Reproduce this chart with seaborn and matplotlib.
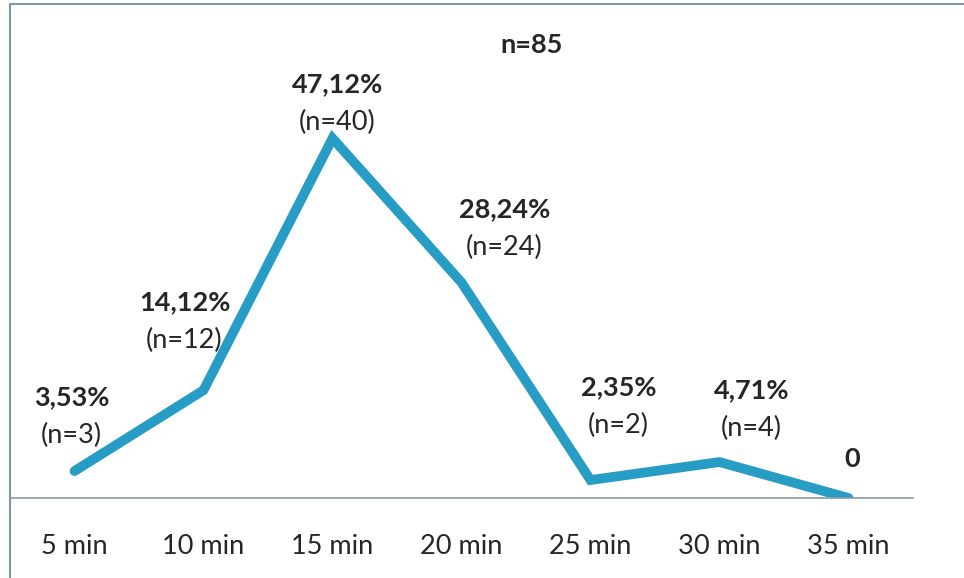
import matplotlib
matplotlib.use("Agg")
import matplotlib.pyplot as plt
import seaborn as sns
import pandas as pd
from matplotlib.lines import Line2D

# data
times = ["5 min", "10 min", "15 min", "20 min", "25 min", "30 min", "35 min"]
percent = [3.53, 14.12, 47.12, 28.24, 2.35, 4.71, 0.0]
counts = [3, 12, 40, 24, 2, 4, 0]
pct_labels = ["3,53%", "14,12%", "47,12%", "28,24%", "2,35%", "4,71%", "0"]
total_n = 85

# label offsets (pixels) from each point
offsets = [(-3, 55), (-19, 69), (5, 35), (43, 54), (28, 74), (32, 53), (4, 39)]

df = pd.DataFrame({"time": times, "percent": percent})

sns.set_style("white")
plt.rcParams["font.family"] = ["Lato", "DejaVu Sans"]
text_color = "#262626"
fsize = 19.5

fig = plt.figure(figsize=(9.64, 5.78), dpi=100)
ax = fig.add_axes([10 / 964, 80 / 578, 903 / 964, 458 / 578])

sns.lineplot(data=df, x="time", y="percent", ax=ax, color="#279dc5",
             linewidth=7, solid_capstyle="round", solid_joinstyle="miter",
             sort=False)

ax.set_xlim(-0.5, len(times) - 0.5)
ax.set_ylim(0, 60)
ax.set_yticks([])
ax.set_xlabel("")
ax.set_ylabel("")
ax.tick_params(axis="x", length=0, pad=26, labelsize=fsize, labelcolor=text_color)
for side in ["top", "right", "left"]:
    ax.spines[side].set_visible(False)
ax.spines["bottom"].set_color("#8c9ba5")
ax.spines["bottom"].set_linewidth(1.2)

# point labels
for i, (lab, n) in enumerate(zip(pct_labels, counts)):
    dx, dy = offsets[i]
    if lab == "0":
        ax.annotate(lab, (i, percent[i]), xytext=(dx, dy), textcoords="offset pixels",
                    ha="center", va="center", fontsize=fsize, fontweight="bold",
                    color=text_color)
        continue
    ax.annotate(lab, (i, percent[i]), xytext=(dx, dy + 19), textcoords="offset pixels",
                ha="center", va="center", fontsize=fsize, fontweight="bold",
                color=text_color)
    ax.annotate(f"(n={n})", (i, percent[i]), xytext=(dx, dy - 19),
                textcoords="offset pixels", ha="center", va="center",
                fontsize=fsize, color=text_color)

fig.text(532 / 964, 1 - 45 / 578, f"n={total_n}", ha="center", va="center",
         fontsize=fsize, fontweight="bold", color=text_color)

# chart frame (top and left edges)
fig.add_artist(Line2D([10 / 964, 1], [1 - 4 / 578, 1 - 4 / 578],
                      transform=fig.transFigure, color="#7f98a8", linewidth=1.5))
fig.add_artist(Line2D([10 / 964, 10 / 964], [0, 1 - 4 / 578],
                      transform=fig.transFigure, color="#7f98a8", linewidth=1.5))

fig.savefig("out.png", dpi=100)
